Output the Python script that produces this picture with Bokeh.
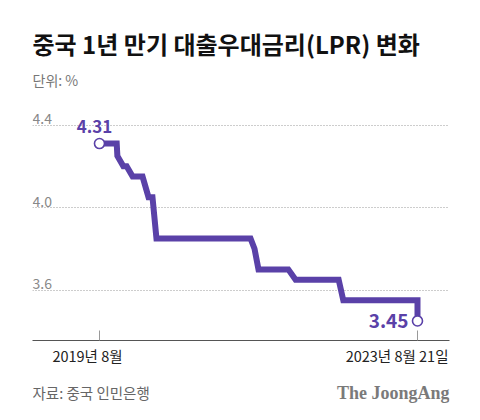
from bokeh.plotting import figure
from bokeh.layouts import column
from bokeh.models import FixedTicker, Range1d
from bokeh.core.properties import value
from bokeh.embed import file_html
from bokeh.resources import INLINE

# ---- data (x = position along the time axis) ----
period = [0, 2.6, 2.7, 3.6, 4.1, 5.0, 6.5, 7.4, 8.0, 8.6, 22.8, 23.4, 24.0, 28.5, 29.6, 36.1, 36.8, 48, 48]
rate   = [4.31, 4.31, 4.25, 4.20, 4.20, 4.15, 4.15, 4.05, 4.05, 3.85, 3.85, 3.80, 3.70, 3.70, 3.65, 3.65, 3.55, 3.55, 3.45]
y_ticks = [3.6, 4.0, 4.4]
y_tick_labels = ["3.6", "4.0", "4.4"]
x_ticks = [0, 48]
x_tick_labels = ["2019년 8월", "2023년 8월 21일"]
title_text = "중국 1년 만기 대출우대금리(LPR) 변화"
unit_text = "단위: %"
source_text = "자료: 중국 인민은행"
brand_text = "The JoongAng"

PURPLE = "#5a41a8"
KR = "Noto Sans CJK KR"

W = 470
LEFT, RIGHT = 32, 21          # frame borders (px)
HEAD_H, PLOT_H, AX_H, FOOT_H = 100, 240, 4, 70
X0, X1 = -10.11, 52.83        # data range of the plot frame


def bare(h, yr):
    f = figure(width=W, height=h, output_backend="svg", toolbar_location=None,
               title=None, x_axis_location=None, y_axis_location=None,
               min_border_left=LEFT, min_border_right=RIGHT,
               min_border_top=0, min_border_bottom=0,
               x_range=Range1d(X0, X1), y_range=yr)
    f.grid.visible = False
    f.outline_line_color = None
    f.background_fill_color = "white"
    f.border_fill_color = "white"
    return f


# ---- header: title + unit ----
head = bare(HEAD_H, Range1d(HEAD_H, 0))
head.text(x=[X0], y=[43], text=[title_text], text_font=value(KR),
          text_font_size="24px", text_font_style="bold", text_color="#111111",
          text_align="left", text_baseline="middle")
head.text(x=[X0], y=[79], text=[unit_text], text_font=value(KR),
          text_font_size="14px", text_color="#777777",
          text_align="left", text_baseline="middle")

# ---- main chart ----
p = figure(width=W, height=PLOT_H + AX_H, output_backend="svg", toolbar_location=None,
           title=None, min_border_left=LEFT, min_border_right=RIGHT,
           min_border_top=0, min_border_bottom=AX_H,
           x_range=Range1d(X0, X1), y_range=Range1d(3.3552, 4.5188))
p.outline_line_color = None
p.background_fill_color = "white"
p.border_fill_color = "white"
p.xgrid.visible = False
p.yaxis.visible = False
p.ygrid.ticker = FixedTicker(ticks=y_ticks)
p.ygrid.grid_line_color = "#9a9a9a"
p.ygrid.grid_line_dash = "1 2"
p.ygrid.grid_line_width = 1

ax = p.xaxis[0]
ax.ticker = FixedTicker(ticks=x_ticks)
ax.major_label_overrides = {t: "" for t in x_ticks}
ax.major_label_standoff = 0
ax.axis_line_color = "#555555"
ax.axis_line_width = 1
ax.major_tick_in = 10
ax.major_tick_out = 0
ax.major_tick_line_color = "#999999"
ax.minor_tick_line_color = None

p.text(x=[X0] * len(y_ticks), y=y_ticks, text=y_tick_labels,
       text_font=value(KR), text_font_size="14px", text_color="#888888",
       text_align="left", text_baseline="bottom", y_offset=-1)

p.line(period, rate, line_width=6, line_color=PURPLE, line_join="miter")
p.scatter([period[0], period[-1]], [rate[0], rate[-1]], size=10,
          fill_color="white", line_color=PURPLE, line_width=1.6)

p.text(x=[period[0]], y=[rate[0]], text=[f"{rate[0]:.2f}"], text_font=value(KR),
       text_font_size="17px", text_font_style="bold", text_color=PURPLE,
       text_align="center", text_baseline="middle", x_offset=-5, y_offset=-17)
p.text(x=[period[-1]], y=[rate[-1]], text=[f"{rate[-1]:.2f}"], text_font=value(KR),
       text_font_size="19px", text_font_style="bold", text_color=PURPLE,
       text_align="right", text_baseline="middle", x_offset=-9, y_offset=0)

# ---- footer: x tick labels, source, brand (same x scale as the chart) ----
foot = bare(FOOT_H, Range1d(FOOT_H, 0))
foot.text(x=[x_ticks[0]], y=[15 - AX_H], text=[x_tick_labels[0]],
          text_font=value(KR), text_font_size="14.5px", text_color="#222222",
          text_align="center", text_baseline="middle", x_offset=-12)
foot.text(x=[x_ticks[1]], y=[15 - AX_H], text=[x_tick_labels[1]],
          text_font=value(KR), text_font_size="14.5px", text_color="#222222",
          text_align="right", text_baseline="middle", x_offset=31)
foot.text(x=[X0], y=[52 - AX_H], text=[source_text], text_font=value(KR),
          text_font_size="14.5px", text_color="#666666",
          text_align="left", text_baseline="middle")
foot.text(x=[X1], y=[52 - AX_H], text=[brand_text], text_font=value("Liberation Serif"),
          text_font_size="18px", text_font_style="bold", text_color="#7a7a7a",
          text_align="right", text_baseline="middle")

layout = column(head, p, foot, spacing=0)
open("out.html", "w").write(file_html(layout, INLINE))
